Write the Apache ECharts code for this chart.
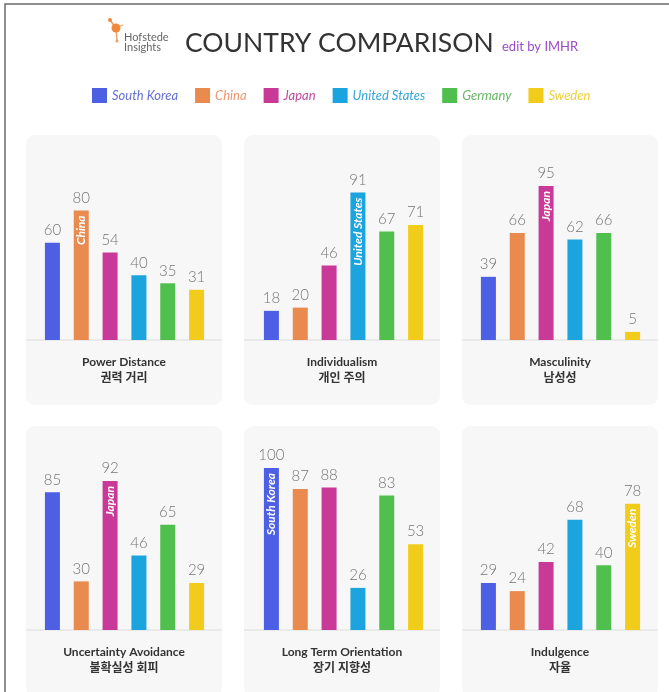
<!DOCTYPE html>
<html>
<head>
<meta charset="utf-8">
<script src="https://cdn.jsdelivr.net/npm/echarts@6/dist/echarts.min.js"></script>
<style>
html,body{margin:0;padding:0;background:#fff;}
#chart{width:669px;height:692px;}
</style>
</head>
<body>
<div id="chart"></div>
<script>
const countries = ['South Korea', 'China', 'Japan', 'United States', 'Germany', 'Sweden'];
const dimensions = ['Power Distance', 'Individualism', 'Masculinity', 'Uncertainty Avoidance', 'Long Term Orientation', 'Indulgence'];
const dimensionsKo = ['권력 거리', '개인 주의', '남성성', '불확실성 회피', '장기 지향성', '자율'];
const powerDistance = [60, 80, 54, 40, 35, 31];
const individualism = [18, 20, 46, 91, 67, 71];
const masculinity = [39, 66, 95, 62, 66, 5];
const uncertaintyAvoidance = [85, 30, 92, 46, 65, 29];
const longTermOrientation = [100, 87, 88, 26, 83, 53];
const indulgence = [29, 24, 42, 68, 40, 78];
const highlighted = [1, 3, 2, 2, 0, 5];

const values = [powerDistance, individualism, masculinity, uncertaintyAvoidance, longTermOrientation, indulgence];
const colors = ['#4d5fe3', '#e98a4f', '#c93a98', '#1ba4de', '#50bf4d', '#f2cc1a'];
const textColors = ['#6570d6', '#e99a74', '#c3489c', '#34a6d8', '#68b766', '#f0d038'];

const panelX = [26, 244, 462];
const panelY = [135, 426];
const gridLeft = [38, 257, 474];
const gridTop = [178, 468];
const baseY = [340, 630];
const FONT = 'Lato, "Noto Sans CJK KR", sans-serif';

const grids = [], xAxes = [], yAxes = [], series = [], graphics = [];

graphics.push({type:'rect', shape:{x:5, y:4, width:720, height:720}, style:{fill:'none', stroke:'#6b6b6b', lineWidth:1.5}, z:0});

for (let g = 0; g < 6; g++) {
  const col = g % 3, row = Math.floor(g / 3);
  graphics.push({type:'rect', shape:{x:panelX[col], y:panelY[row], width:196, height:270, r:9}, style:{fill:'#f7f7f7'}, z:-1});
  graphics.push({type:'line', shape:{x1:panelX[col], y1:baseY[row], x2:panelX[col] + 196, y2:baseY[row]}, style:{stroke:'#dcdcdc', lineWidth:1}, z:1});
  graphics.push({type:'text', x:panelX[col] + 98, y:baseY[row] + 22, style:{text:dimensions[g], textAlign:'center', textVerticalAlign:'middle', fill:'#333', font:'bold 12px ' + FONT}});
  graphics.push({type:'text', x:panelX[col] + 98, y:baseY[row] + 38, style:{text:dimensionsKo[g], textAlign:'center', textVerticalAlign:'middle', fill:'#333', font:'bold 12px ' + FONT}});

  grids.push({left:gridLeft[col], top:gridTop[row], width:173, height:162, containLabel:false});
  xAxes.push({type:'category', gridIndex:g, data:countries, axisLine:{show:false}, axisTick:{show:false}, axisLabel:{show:false}, splitLine:{show:false}});
  yAxes.push({type:'value', gridIndex:g, min:0, max:100, show:false, splitLine:{show:false}});

  for (let c = 0; c < 6; c++) {
    const data = countries.map((n, i) => i === c ? values[g][i] : '-');
    series.push({
      type:'bar', name:countries[c], xAxisIndex:g, yAxisIndex:g, data:data,
      barWidth:15, barGap:'-100%',
      itemStyle:{color:colors[c]},
      label:{show:true, position:'top', distance:5, color:'#757575', fontSize:15, fontWeight:300, fontFamily:FONT},
      emphasis:{disabled:true}, animation:false
    });
  }
  const h = highlighted[g];
  series.push({
    type:'bar', name:'__label' + g, xAxisIndex:g, yAxisIndex:g,
    data:countries.map((n, i) => i === h ? values[g][i] : '-'),
    barWidth:15, barGap:'-100%',
    itemStyle:{color:'rgba(0,0,0,0)'},
    label:{show:true, position:'insideTop', distance:5, rotate:90, align:'right', verticalAlign:'middle',
      color:'#fff', fontSize:12, fontStyle:'italic', fontWeight:'bold', fontFamily:FONT,
      formatter:() => countries[h]},
    emphasis:{disabled:true}, animation:false, z:5
  });
}

// header
graphics.push({type:'line', shape:{x1:116, y1:28, x2:117, y2:41}, style:{stroke:'#f0a060', lineWidth:1.5}});
graphics.push({type:'line', shape:{x1:116, y1:28, x2:110, y2:20}, style:{stroke:'#f0a060', lineWidth:1.5}});
graphics.push({type:'line', shape:{x1:116, y1:28, x2:123, y2:25}, style:{stroke:'#f0a060', lineWidth:1.2}});
graphics.push({type:'circle', shape:{cx:116, cy:28, r:4.5}, style:{fill:'#ef8a3c'}});
graphics.push({type:'circle', shape:{cx:110, cy:20, r:2}, style:{fill:'#ef8a3c'}});
graphics.push({type:'circle', shape:{cx:117, cy:41, r:1.5}, style:{fill:'#f0a060'}});
graphics.push({type:'text', x:124, y:37, style:{text:'Hofstede', textVerticalAlign:'middle', fill:'#666', font:'11px ' + FONT}});
graphics.push({type:'text', x:124, y:47.5, style:{text:'Insights', textVerticalAlign:'middle', fill:'#666', font:'11px ' + FONT}});
graphics.push({type:'text', x:185, y:43, style:{text:'COUNTRY COMPARISON', textVerticalAlign:'middle', fill:'#333', font:'26.5px ' + FONT}});
graphics.push({type:'text', x:502, y:47, style:{text:'edit by IMHR', textVerticalAlign:'middle', fill:'#9a4cc8', font:'13px ' + FONT}});

const chart = echarts.init(document.getElementById('chart'), null, {renderer:'canvas'});
chart.setOption({
  backgroundColor:'#fff',
  animation:false,
  textStyle:{fontFamily:FONT},
  legend:{
    left:92, top:88, padding:0, itemWidth:15, itemHeight:15, itemGap:17, icon:'rect',
    selectedMode:false,
    data:countries.map((n, i) => ({name:n, textStyle:{color:textColors[i]}})),
    textStyle:{fontSize:13, fontStyle:'italic', fontFamily:FONT}
  },
  grid:grids, xAxis:xAxes, yAxis:yAxes, series:series,
  graphic:graphics
});
</script>
</body>
</html>
